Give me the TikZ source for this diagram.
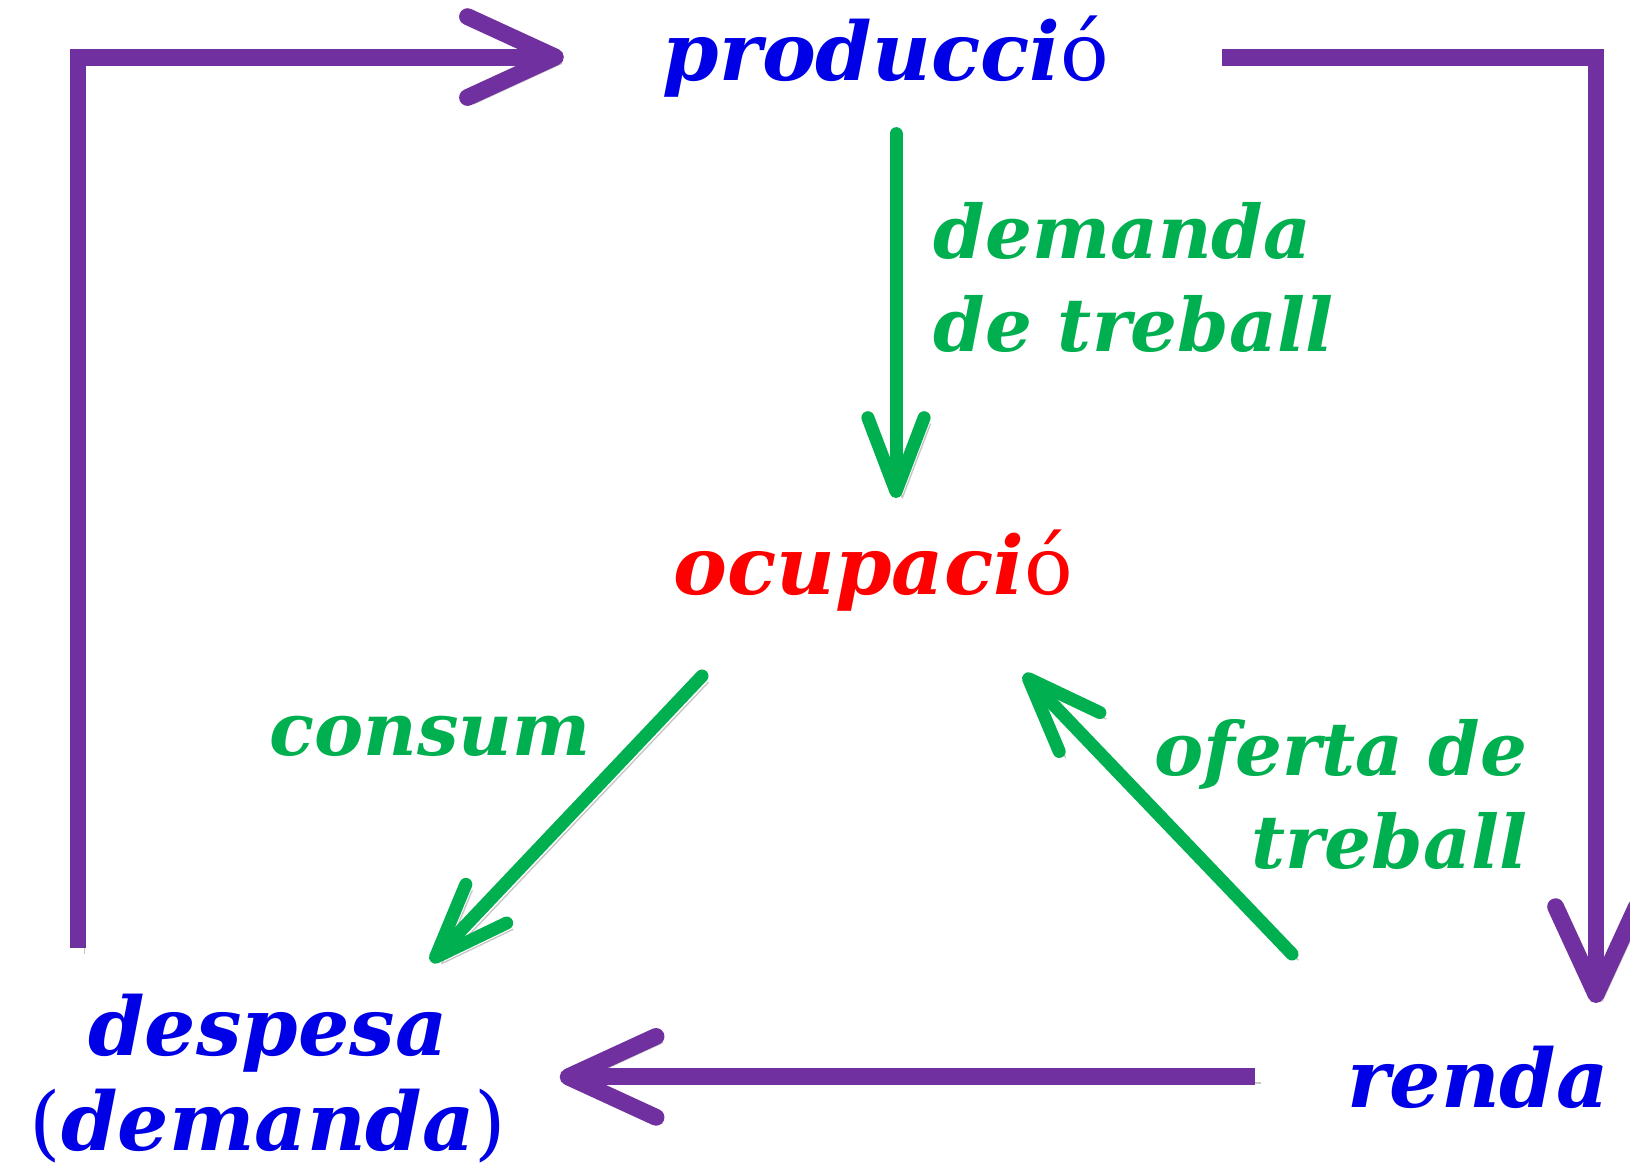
\documentclass[tikz,border=0pt]{standalone}
\usepackage{fontspec}
\setmainfont{DejaVu Serif}
\usetikzlibrary{arrows.meta}

\definecolor{loopviolet}{RGB}{112,48,160}
\definecolor{flowgreen}{RGB}{0,176,80}
\definecolor{wordblue}{RGB}{0,0,230}
\definecolor{wordred}{RGB}{255,0,0}
\newcommand{\upacc}[1]{\textup{\mdseries #1}}

\begin{document}
\begin{tikzpicture}[
        x=0.1mm, y=-0.1mm,
        word/.style={inner sep=0pt, font=\fontsize{23}{27}\selectfont\bfseries\itshape},
        mainword/.style={word, text=wordblue},
        flowlabel/.style={word, text=flowgreen, font=\fontsize{21}{26.5}\selectfont\bfseries\itshape},
        shadowed/.style={preaction={draw=black!22, transform canvas={shift={(1.8pt,-1.8pt)}}}},
        loop/.style={shadowed, line width=4.8pt, draw=loopviolet, -{Straight Barb[length=25pt,width=23pt,round]}},
        flow/.style={shadowed, line width=3.7pt, draw=flowgreen, line cap=round, -{Straight Barb[length=21pt,width=16pt,round]}}
    ]
        \useasboundingbox (0,0) rectangle (1630,1172);

        % Nodes
        \node[mainword, anchor=base] (prod) at (886,81) {producci\upacc{ó}};
        \node[word, text=wordred, anchor=base] (ocup) at (873,595) {ocupaci\upacc{ó}};
        \node[mainword, anchor=north, align=center] (desp) at (268,993) {despesa\\\upacc{(}demanda\upacc{)}};
        \node[mainword, anchor=base] (renda) at (1478,1107) {renda};
        \node[flowlabel, anchor=north west, align=left] (dtreb) at (933,202) {demanda\\de treball};
        \node[flowlabel, anchor=base] (consum) at (430,756) {consum};
        \node[flowlabel, anchor=north east, align=right] (otreb) at (1528,719) {oferta de\\treball};

        % Free ends of the diagonal arrows
        \coordinate (consumtail) at (702,676);
        \coordinate (consumtip) at (431,962);
        \coordinate (ofertatail) at (1292,954);
        \coordinate (ofertatip) at (1024,674);
        \coordinate (loopstart) at (78,948);
        \coordinate (looptip) at (1596,1003);

        % Arrows
        \draw[loop, shorten >=28pt] (loopstart) |- (prod.west);
        \draw[loop, shorten <=32pt] (prod.east) -| (looptip);
        \draw[loop, shorten <=26pt, shorten >=15pt] (renda.west) -- (renda.west -| desp.east);
        \draw[flow, shorten <=10pt, shorten >=9pt] ([xshift=1mm]prod.south) -- ([xshift=1mm]prod.south |- ocup.north);
        \draw[flow] (consumtail) -- (consumtip);
        \draw[flow] (ofertatail) -- (ofertatip);
    \end{tikzpicture}
\end{document}
